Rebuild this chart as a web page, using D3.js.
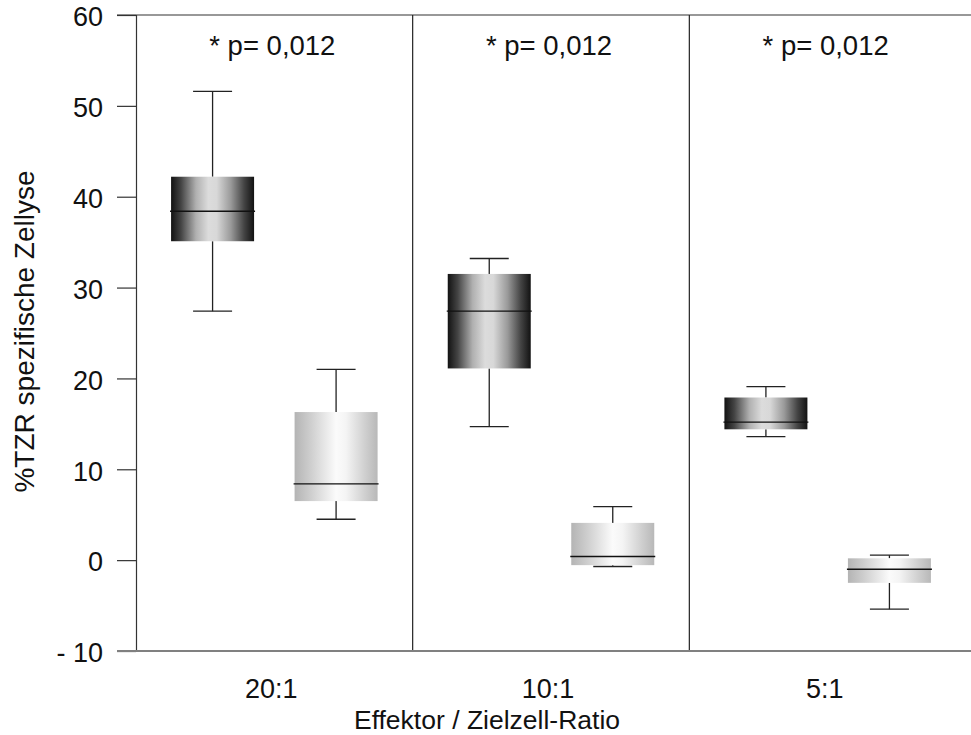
<!DOCTYPE html>
<html>
<head>
<meta charset="utf-8">
<script src="https://cdn.jsdelivr.net/npm/d3@7"></script>
<style>
  html, body { margin: 0; padding: 0; background: #fff; }
  svg { display: block; font-family: "Liberation Sans", Arial, sans-serif; }
</style>
</head>
<body>
<script>
// ---- data ----
const categories = ["20:1", "10:1", "5:1"];
const groups = ["TZR", "Kontrolle"];
// [whiskerLow, q1, median, q3, whiskerHigh]
const tzrStats = [
  [27.4, 35.1, 38.4, 42.2, 51.6],
  [14.7, 21.1, 27.4, 31.5, 33.2],
  [13.6, 14.4, 15.2, 17.9, 19.1]
];
const controlStats = [
  [4.5, 6.5, 8.4, 16.3, 21.0],
  [-0.7, -0.55, 0.4, 4.1, 5.9],
  [-5.4, -2.5, -1.0, 0.2, 0.55]
];
const pLabels = ["* p= 0,012", "* p= 0,012", "* p= 0,012"];
const yTicks = [-10, 0, 10, 20, 30, 40, 50, 60];
const yTickLabels = ["- 10", "0", "10", "20", "30", "40", "50", "60"];
const yTitle = "%TZR spezifische Zellyse";
const xTitle = "Effektor / Zielzell-Ratio";

// ---- layout ----
const W = 971, H = 735;
const mLeft = 136, mRight = 966, mTop = 15, mBottom = 651;

const svg = d3.select("body").append("svg").attr("width", W).attr("height", H);

const defs = svg.append("defs");
const gDark = defs.append("linearGradient").attr("id", "gradDark")
  .attr("x1", "0%").attr("x2", "100%").attr("y1", "0%").attr("y2", "0%");
[[0, "#121212"], [0.12, "#444"], [0.3, "#b0b0b0"], [0.45, "#dcdcdc"], [0.55, "#d8d8d8"], [0.72, "#9a9a9a"], [0.88, "#444"], [1, "#121212"]]
  .forEach(([o, c]) => gDark.append("stop").attr("offset", o).attr("stop-color", c));
const gLight = defs.append("linearGradient").attr("id", "gradLight")
  .attr("x1", "0%").attr("x2", "100%").attr("y1", "0%").attr("y2", "0%");
[[0, "#b4b4b4"], [0.2, "#cfcfcf"], [0.5, "#fbfbfb"], [0.62, "#f4f4f4"], [0.85, "#cfcfcf"], [1, "#b8b8b8"]]
  .forEach(([o, c]) => gLight.append("stop").attr("offset", o).attr("stop-color", c));

const x = d3.scaleBand().domain(categories).range([mLeft, mRight]).paddingInner(0).paddingOuter(0);
const xInner = d3.scalePoint().domain(groups).range([0, x.bandwidth()]).padding(0.62);
const y = d3.scaleLinear().domain([-10, 60]).range([mBottom, mTop]);

const boxW = x.bandwidth() * 0.3;
const capW = 39;

// frame lines
svg.append("line").attr("x1", 117).attr("x2", W).attr("y1", y(60)).attr("y2", y(60))
  .attr("stroke", "#333").attr("stroke-width", 1.2);
// dividers
categories.slice(1).forEach(c => {
  svg.append("line").attr("x1", x(c)).attr("x2", x(c)).attr("y1", y(60)).attr("y2", y(-10))
    .attr("stroke", "#222").attr("stroke-width", 1.2);
});

// y axis
const yAxis = d3.axisLeft(y).tickValues(yTicks)
  .tickFormat((d, i) => yTickLabels[i]).tickSize(19).tickPadding(14);
const ga = svg.append("g").attr("transform", `translate(${mLeft},0)`).call(yAxis);
ga.select(".domain").attr("stroke", "#333").attr("stroke-width", 1.2);
ga.selectAll(".tick line").attr("stroke", "#333").attr("stroke-width", 1.2);
ga.selectAll(".tick text").attr("font-size", 27).attr("fill", "#111")
  .attr("font-family", "Liberation Sans, Arial, sans-serif").attr("dy", "0.4em");

// bottom line
svg.append("line").attr("x1", 117).attr("x2", W).attr("y1", y(-10)).attr("y2", y(-10))
  .attr("stroke", "#808080").attr("stroke-width", 2);

// boxes
function drawBox(stats, cat, grp, fill) {
  const cx = x(cat) + xInner(grp);
  const [lo, q1, med, q3, hi] = stats;
  const g = svg.append("g");
  g.append("line").attr("x1", cx).attr("x2", cx).attr("y1", y(hi)).attr("y2", y(q3))
    .attr("stroke", "#222").attr("stroke-width", 1.3);
  g.append("line").attr("x1", cx).attr("x2", cx).attr("y1", y(q1)).attr("y2", y(lo))
    .attr("stroke", "#222").attr("stroke-width", 1.3);
  g.append("line").attr("x1", cx - capW / 2).attr("x2", cx + capW / 2).attr("y1", y(hi)).attr("y2", y(hi))
    .attr("stroke", "#222").attr("stroke-width", 1.3);
  g.append("line").attr("x1", cx - capW / 2).attr("x2", cx + capW / 2).attr("y1", y(lo)).attr("y2", y(lo))
    .attr("stroke", "#222").attr("stroke-width", 1.3);
  g.append("rect").attr("x", cx - boxW / 2).attr("width", boxW)
    .attr("y", y(q3)).attr("height", y(q1) - y(q3)).attr("fill", fill);
  g.append("line").attr("x1", cx - boxW / 2 - 1).attr("x2", cx + boxW / 2 + 1).attr("y1", y(med)).attr("y2", y(med))
    .attr("stroke", "#111").attr("stroke-width", 1.3);
}
categories.forEach((c, i) => {
  drawBox(tzrStats[i], c, groups[0], "url(#gradDark)");
  drawBox(controlStats[i], c, groups[1], "url(#gradLight)");
});

// p labels
categories.forEach((c, i) => {
  svg.append("text").attr("x", x(c) + x.bandwidth() / 2 - 2).attr("y", 55)
    .attr("text-anchor", "middle").attr("font-size", 27.5).attr("fill", "#111").text(pLabels[i]);
});

// category labels
categories.forEach(c => {
  svg.append("text").attr("x", x(c) + x.bandwidth() / 2 - 3).attr("y", 698)
    .attr("text-anchor", "middle").attr("font-size", 27).attr("fill", "#111").text(c);
});

// axis titles
svg.append("text").attr("x", 487).attr("y", 729).attr("text-anchor", "middle")
  .attr("font-size", 26.5).attr("fill", "#111").text(xTitle);
svg.append("text").attr("transform", `translate(34,${(170 + 493) / 2}) rotate(-90)`)
  .attr("text-anchor", "middle").attr("font-size", 28).attr("fill", "#111").text(yTitle);
</script>
</body>
</html>
